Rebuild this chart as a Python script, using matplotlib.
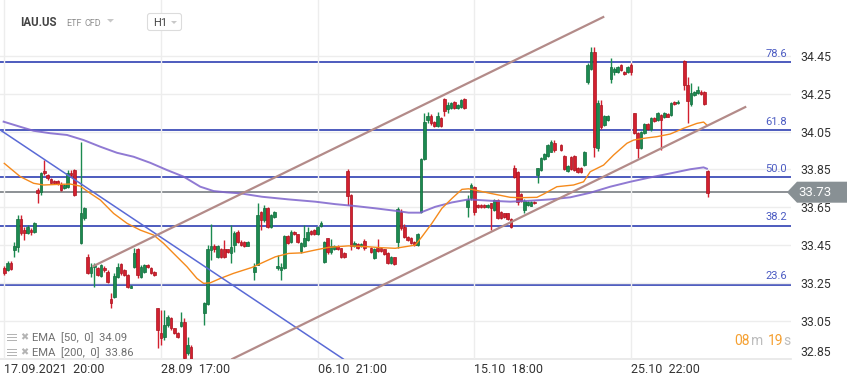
import numpy as np
import matplotlib
matplotlib.use("Agg")
import matplotlib.pyplot as plt
from matplotlib.patches import Polygon, FancyBboxPatch, Rectangle

plt.rcParams['font.family'] = ['Roboto', 'DejaVu Sans']

# ---------------- data ----------------
# time slot of each candle (hourly bars, index along the x axis)
slots = (list(range(0, 22)) + list(range(23, 45)) + list(range(45, 57)) +
         list(range(60, 74)) + list(range(75, 109)) + list(range(110, 166)) +
         list(range(167, 203)) + list(range(204, 212)))

opens = [33.331, 33.319, 33.358, 33.425, 33.440, 33.588, 33.530, 33.516, 33.530, 33.521,
         33.741, 33.732, 33.842, 33.821, 33.798, 33.790, 33.789, 33.773, 33.750, 33.759,
         33.833, 33.847, 33.460, 33.592, 33.389, 33.302, 33.337, 33.328, 33.289, 33.330,
         33.310, 33.166, 33.178, 33.284, 33.349, 33.319, 33.293, 33.226, 33.337, 33.428,
         33.284, 33.310, 33.344, 33.328, 33.310, 33.117, 32.987, 32.967, 33.029, 33.064,
         33.012, 32.988, 33.024, 33.046, 32.880, 32.914, 33.091, 33.140, 33.425, 33.446,
         33.389, 33.428, 33.428, 33.428, 33.407, 33.451, 33.521, 33.469, 33.465, 33.448,
         33.310, 33.346, 33.627, 33.583, 33.645, 33.548, 33.601, 33.328, 33.319, 33.328,
         33.499, 33.469, 33.521, 33.508, 33.421, 33.448, 33.478, 33.527, 33.530, 33.509,
         33.551, 33.360, 33.487, 33.413, 33.430, 33.448, 33.434, 33.411, 33.842, 33.715,
         33.448, 33.456, 33.448, 33.474, 33.434, 33.381, 33.434, 33.434, 33.428, 33.407,
         33.358, 33.386, 33.469, 33.627, 33.548, 33.495, 33.487, 33.469, 33.451, 33.627,
         33.903, 34.111, 34.132, 34.102, 34.081, 34.120, 34.222, 34.169, 34.173, 34.207,
         34.173, 34.181, 34.220, 33.653, 33.698, 33.759, 33.664, 33.664, 33.662, 33.650,
         33.671, 33.636, 33.689, 33.627, 33.618, 33.618, 33.588, 33.856, 33.838, 33.719,
         33.636, 33.662, 33.659, 33.680, 33.821, 33.847, 33.905, 33.922, 33.944, 33.988,
         33.979, 33.921, 33.842, 33.917, 33.921, 33.859, 33.859, 33.873, 34.313, 34.380,
         34.468, 33.961, 34.190, 34.085, 34.111, 34.326, 34.366, 34.363, 34.401, 34.366,
         34.363, 34.401, 34.146, 34.041, 33.961, 34.041, 34.088, 34.062, 34.120, 34.111,
         34.137, 34.125, 34.142, 34.137, 34.207, 34.199, 34.424, 34.295, 34.195, 34.243,
         34.252, 34.260, 34.257, 33.842]
highs = [33.340, 33.367, 33.367, 33.469, 33.609, 33.609, 33.548, 33.557, 33.541, 33.574,
         33.752, 33.838, 33.900, 33.826, 33.805, 33.795, 33.794, 33.785, 33.773, 33.847,
         33.847, 33.852, 33.993, 33.653, 33.404, 33.355, 33.355, 33.335, 33.351, 33.340,
         33.319, 33.198, 33.302, 33.358, 33.356, 33.324, 33.298, 33.240, 33.434, 33.434,
         33.346, 33.351, 33.349, 33.333, 33.314, 33.117, 33.108, 33.108, 33.082, 33.071,
         33.015, 32.992, 33.099, 33.066, 32.967, 32.923, 33.152, 33.451, 33.562, 33.456,
         33.451, 33.435, 33.478, 33.432, 33.557, 33.525, 33.530, 33.478, 33.470, 33.472,
         33.358, 33.671, 33.630, 33.662, 33.650, 33.614, 33.632, 33.398, 33.355, 33.504,
         33.504, 33.530, 33.526, 33.512, 33.469, 33.557, 33.548, 33.532, 33.535, 33.553,
         33.578, 33.470, 33.490, 33.481, 33.453, 33.452, 33.438, 33.415, 33.852, 33.718,
         33.470, 33.460, 33.462, 33.481, 33.440, 33.435, 33.483, 33.440, 33.432, 33.412,
         33.395, 33.390, 33.650, 33.641, 33.562, 33.500, 33.492, 33.474, 33.514, 33.908,
         34.149, 34.153, 34.142, 34.108, 34.153, 34.126, 34.227, 34.207, 34.205, 34.212,
         34.195, 34.222, 34.225, 33.715, 33.778, 33.765, 33.667, 33.668, 33.666, 33.668,
         33.675, 33.694, 33.694, 33.632, 33.622, 33.622, 33.592, 33.873, 33.841, 33.724,
         33.694, 33.683, 33.686, 33.684, 33.860, 33.914, 33.935, 33.984, 34.003, 34.005,
         33.984, 33.926, 33.873, 33.922, 33.926, 33.864, 33.864, 33.948, 34.410, 34.498,
         34.498, 34.214, 34.216, 34.137, 34.137, 34.436, 34.390, 34.395, 34.406, 34.370,
         34.397, 34.411, 34.150, 34.046, 34.054, 34.093, 34.093, 34.129, 34.125, 34.155,
         34.142, 34.151, 34.147, 34.205, 34.212, 34.216, 34.427, 34.339, 34.304, 34.265,
         34.290, 34.270, 34.262, 33.845]
lows = [33.293, 33.314, 33.319, 33.389, 33.416, 33.504, 33.478, 33.509, 33.504, 33.517,
        33.674, 33.715, 33.821, 33.794, 33.776, 33.772, 33.770, 33.736, 33.745, 33.750,
        33.812, 33.710, 33.458, 33.583, 33.297, 33.284, 33.231, 33.288, 33.285, 33.311,
        33.251, 33.119, 33.170, 33.277, 33.295, 33.288, 33.224, 33.222, 33.328, 33.275,
        33.277, 33.305, 33.330, 33.298, 33.288, 32.906, 32.923, 32.950, 33.018, 33.003,
        32.984, 32.963, 33.018, 32.850, 32.871, 32.840, 33.029, 33.134, 33.372, 33.414,
        33.384, 33.384, 33.383, 33.410, 33.356, 33.414, 33.462, 33.446, 33.442, 33.444,
        33.266, 33.344, 33.530, 33.572, 33.543, 33.543, 33.596, 33.319, 33.266, 33.323,
        33.458, 33.460, 33.504, 33.464, 33.407, 33.442, 33.472, 33.505, 33.505, 33.504,
        33.546, 33.356, 33.404, 33.404, 33.425, 33.426, 33.385, 33.385, 33.662, 33.425,
        33.442, 33.430, 33.440, 33.425, 33.408, 33.376, 33.414, 33.416, 33.400, 33.353,
        33.353, 33.345, 33.434, 33.530, 33.488, 33.474, 33.456, 33.447, 33.446, 33.622,
        33.900, 34.095, 34.084, 34.076, 34.074, 34.076, 34.132, 34.148, 34.168, 34.168,
        34.168, 34.176, 34.168, 33.600, 33.689, 33.609, 33.645, 33.645, 33.646, 33.646,
        33.530, 33.632, 33.588, 33.588, 33.596, 33.582, 33.543, 33.805, 33.662, 33.678,
        33.620, 33.656, 33.655, 33.668, 33.777, 33.842, 33.900, 33.917, 33.940, 33.942,
        33.947, 33.845, 33.837, 33.846, 33.842, 33.833, 33.830, 33.868, 34.300, 34.374,
        33.917, 33.945, 34.063, 34.080, 34.106, 34.304, 34.350, 34.358, 34.370, 34.348,
        34.358, 34.348, 34.036, 33.909, 33.956, 34.036, 34.057, 34.053, 34.102, 34.106,
        33.952, 34.120, 34.125, 34.132, 34.190, 34.195, 34.269, 34.097, 34.185, 34.238,
        34.247, 34.243, 34.188, 33.706]
closes = [33.302, 33.356, 33.323, 33.446, 33.588, 33.513, 33.516, 33.548, 33.520, 33.567,
          33.727, 33.830, 33.830, 33.803, 33.780, 33.777, 33.773, 33.741, 33.768, 33.833,
          33.821, 33.715, 33.618, 33.645, 33.302, 33.337, 33.346, 33.293, 33.346, 33.317,
          33.257, 33.147, 33.288, 33.337, 33.302, 33.293, 33.231, 33.236, 33.407, 33.293,
          33.337, 33.346, 33.333, 33.302, 33.293, 33.003, 32.959, 33.029, 33.073, 33.012,
          32.988, 32.967, 33.046, 32.853, 32.923, 32.850, 33.145, 33.428, 33.446, 33.428,
          33.446, 33.389, 33.389, 33.416, 33.442, 33.516, 33.469, 33.451, 33.448, 33.465,
          33.337, 33.609, 33.583, 33.645, 33.548, 33.609, 33.627, 33.342, 33.337, 33.499,
          33.463, 33.521, 33.508, 33.469, 33.460, 33.487, 33.521, 33.509, 33.509, 33.548,
          33.569, 33.465, 33.413, 33.448, 33.448, 33.430, 33.389, 33.389, 33.711, 33.448,
          33.463, 33.434, 33.456, 33.434, 33.413, 33.430, 33.421, 33.421, 33.404, 33.358,
          33.389, 33.349, 33.640, 33.539, 33.495, 33.478, 33.460, 33.451, 33.509, 33.903,
          34.102, 34.132, 34.093, 34.081, 34.132, 34.081, 34.160, 34.190, 34.199, 34.173,
          34.190, 34.216, 34.173, 33.689, 33.768, 33.627, 33.650, 33.650, 33.650, 33.664,
          33.645, 33.689, 33.592, 33.592, 33.600, 33.587, 33.548, 33.812, 33.680, 33.683,
          33.683, 33.676, 33.680, 33.671, 33.856, 33.909, 33.930, 33.979, 33.996, 33.952,
          33.952, 33.851, 33.868, 33.851, 33.847, 33.838, 33.835, 33.943, 34.401, 34.468,
          33.970, 34.202, 34.072, 34.132, 34.132, 34.392, 34.378, 34.389, 34.375, 34.352,
          34.392, 34.363, 34.041, 33.961, 34.049, 34.088, 34.062, 34.120, 34.107, 34.149,
          34.111, 34.146, 34.129, 34.199, 34.195, 34.207, 34.295, 34.211, 34.255, 34.260,
          34.269, 34.248, 34.193, 33.724]

# EMA 50 and EMA 200 (slot, price)
ema50_x = [0.0, 4.8, 8.8, 11.8, 15.8, 19.8, 22.8, 25.8, 28.8, 32.8, 36.8, 40.8, 44.8, 47.8,
           50.8, 54.8, 57.8, 59.8, 61.8, 64.8, 68.8, 74.3, 81.3, 85.3, 89.3, 93.3, 97.3,
           103.3, 109.3, 113.3, 117.3, 123.3, 125.3, 128.3, 131.3, 134.3, 137.3, 139.3,
           141.3, 145.8, 151.8, 154.8, 159.8, 161.8, 165.8, 170.8, 173.8, 175.8, 179.8,
           182.8, 186.8, 188.8, 191.8, 195.8, 199.8, 203.8, 207.8, 209.8, 210.8]
ema50_y = [33.882, 33.812, 33.777, 33.768, 33.771, 33.773, 33.762, 33.724, 33.689, 33.618,
           33.566, 33.530, 33.504, 33.460, 33.407, 33.337, 33.275, 33.249, 33.252, 33.275,
           33.302, 33.333, 33.389, 33.407, 33.410, 33.425, 33.439, 33.447, 33.442, 33.437,
           33.434, 33.451, 33.495, 33.566, 33.645, 33.697, 33.745, 33.748, 33.741, 33.724,
           33.703, 33.701, 33.703, 33.720, 33.759, 33.768, 33.785, 33.838, 33.873, 33.926,
           33.988, 34.005, 34.014, 34.023, 34.037, 34.067, 34.093, 34.100, 34.084]
ema200_x = [-0.2, 4.8, 8.8, 13.8, 18.8, 23.8, 28.8, 33.8, 38.8, 43.8, 48.8, 53.8, 58.8,
            62.8, 66.8, 70.8, 77.3, 85.3, 93.3, 99.3, 105.3, 111.3, 117.3, 121.3, 124.8,
            129.3, 134.3, 139.3, 145.8, 151.8, 157.8, 163.8, 169.8, 175.8, 181.8, 187.8,
            193.8, 199.8, 205.8, 209.8, 210.8]
ema200_y = [34.102, 34.075, 34.054, 34.041, 34.032, 34.005, 33.970, 33.938, 33.917, 33.885,
            33.847, 33.812, 33.759, 33.736, 33.729, 33.724, 33.706, 33.692, 33.680, 33.667,
            33.657, 33.645, 33.632, 33.622, 33.622, 33.653, 33.676, 33.692, 33.685, 33.680,
            33.685, 33.692, 33.703, 33.727, 33.759, 33.785, 33.808, 33.829, 33.851, 33.861,
            33.854]

# Fibonacci retracement levels
fib_labels = ["78.6", "61.8", "50.0", "38.2", "23.6"]
fib_prices = [34.415, 34.056, 33.808, 33.552, 33.243]

# drawn trend lines (slot, price) anchors
down_line_x = [-1.2, 101.7]
down_line_y = [34.058, 32.850]
chan_up_x = [26.7, 179.7]
chan_up_y = [33.340, 34.654]
chan_lo_x = [68.4, 222.3]
chan_lo_y = [32.850, 34.179]

last_price = 33.73
y_ticks = [34.45, 34.25, 34.05, 33.85, 33.65, 33.45, 33.25, 33.05, 32.85]
x_tick_slots = [0, 47, 94, 141, 188]
x_tick_labels = ["17.09.2021  20:00", "28.09  17:00", "06.10  21:00",
                 "15.10  18:00", "25.10  22:00"]
ema_legend = ["EMA  [50,  0]  34.09", "EMA  [200,  0]  33.86"]

# ---------------- figure ----------------
W, H = 859, 385
fig = plt.figure(figsize=(W / 100, H / 100), dpi=100)
fig.patch.set_facecolor('white')
ax = fig.add_axes([0, (H - 359) / H, 791 / W, 359 / H])
px_per_slot = 3.333
x_left = -4.3 / px_per_slot
ax.set_xlim(x_left, x_left + 791 / px_per_slot)
ax.set_ylim(32.85, 34.744)
for s in ax.spines.values():
    s.set_visible(False)

ax.yaxis.tick_right()
ax.set_yticks(y_ticks)
ax.set_yticklabels([f"{v:.2f}" for v in y_ticks])
ax.set_xticks(x_tick_slots)
ax.set_xticklabels(x_tick_labels, ha='left')
ax.tick_params(axis='y', length=0, pad=6.5, labelsize=8.8, labelcolor='#333333')
ax.tick_params(axis='x', length=0, pad=3.0, labelsize=9, labelcolor='#333333')
ax.get_yticklabels()[-1].set_va('bottom')
ax.grid(True, color='#ededed', lw=1, zorder=0)
ax.axhline(32.85, color='#e6e6e6', lw=1.2, zorder=0, clip_on=False)

# fib levels
for lab, lvl in zip(fib_labels, fib_prices):
    ax.axhline(lvl, color='#2f40b3', lw=1.2, zorder=1)
    ax.annotate(lab, xy=(0.995, lvl), xycoords=ax.get_yaxis_transform(),
                xytext=(0, 2.5), textcoords='offset points', ha='right', va='bottom',
                fontsize=8, color='#4b5bc2')

# current price line
ax.axhline(last_price, color='#8c9195', lw=1.4, zorder=1)

# candles
o = np.array(opens); h = np.array(highs); l = np.array(lows); c = np.array(closes)
x = np.array(slots, dtype=float)
up = c >= o
green, red = '#1b8a50', '#d3202f'
green_e, red_e = '#136b3c', '#a8141f'
cols = np.where(up, green, red)
edges = np.where(up, green_e, red_e)
ax.vlines(x, l, h, colors=cols, lw=1.0, zorder=3)
bottoms = np.minimum(o, c)
heights = np.maximum(np.abs(c - o), 0.006)
ax.bar(x, heights, bottom=bottoms, width=0.78, color=cols, edgecolor=edges,
       linewidth=0.5, zorder=4)

# EMAs
ax.plot(ema200_x, ema200_y, color='#7d63cc', lw=1.4, alpha=0.85, zorder=5)
ax.plot(ema50_x, ema50_y, color='#f58a1c', lw=1.0, zorder=5)

# trend lines
ax.plot(down_line_x, down_line_y, color='#5a6ad6', lw=1.1, zorder=5)
ax.plot(chan_up_x, chan_up_y, color='#b38b89', lw=1.6, zorder=5)
ax.plot(chan_lo_x, chan_lo_y, color='#b38b89', lw=1.6, zorder=5)

# price tag on the right axis
ytf = ax.get_yaxis_transform()
hh = 10.5 / 189.5
tag = Polygon([(787 / 791, last_price), (797 / 791, last_price + hh),
               (847 / 791, last_price + hh), (847 / 791, last_price - hh),
               (797 / 791, last_price - hh)], closed=True, transform=ytf,
              clip_on=False, facecolor='#889094', edgecolor='none', zorder=10)
ax.add_patch(tag)
ax.text(814.5 / 791, last_price, f"{last_price:.2f}", transform=ytf, ha='center',
        va='center', fontsize=9.5, color='white', zorder=11, clip_on=False)

# ---------------- overlay (header, legend, timer) in pixel coords ----------------
ov = fig.add_axes([0, 0, 1, 1], zorder=20)
ov.set_xlim(0, W); ov.set_ylim(H, 0); ov.axis('off'); ov.patch.set_alpha(0)

ov.text(20.5, 23, "IAU.US", fontsize=8.3, fontweight='bold', color='#444444',
        ha='left', va='center')
ov.text(66.5, 23.5, "ETF", fontsize=6.5, color='#8f8f8f', ha='left', va='center')
ov.text(84.5, 23.5, "CFD", fontsize=6.5, color='#8f8f8f', ha='left', va='center')
ov.add_patch(Polygon([(107, 19), (114, 19), (110.5, 22.5)], closed=True,
                     facecolor='#c8c8c8', edgecolor='none'))
ov.add_patch(FancyBboxPatch((147.5, 13.5), 34, 17, boxstyle='round,pad=0,rounding_size=2.5',
                            facecolor='white', edgecolor='#dcdcdc', lw=0.8))
ov.text(153, 23, "H1", fontsize=8, color='#444444', ha='left', va='center')
ov.add_patch(Polygon([(171, 21), (177, 21), (174, 24)], closed=True,
                     facecolor='#c8c8c8', edgecolor='none'))

# legend rows
for i, txt in enumerate(ema_legend):
    yc = 337.5 + 15 * i
    for k in range(3):
        ov.add_patch(Rectangle((7, yc - 4 + 3 * k), 10, 1.6, facecolor='#b4b4b4',
                               edgecolor='none'))
    ov.text(24.5, yc, "\u2716", fontsize=7, color='#b4b4b4', ha='center', va='center',
            family=['DejaVu Sans'])
    ov.text(32, yc, txt, fontsize=8.1, color='#707070', ha='left', va='center')

# countdown timer
ov.text(734, 341, "08", fontsize=10, color='#f5a031', ha='left', va='center')
ov.text(751, 341, "m", fontsize=10, color='#bdbdbd', ha='left', va='center')
ov.text(767.5, 341, "19", fontsize=10, color='#f5a031', ha='left', va='center')
ov.text(783.5, 341, "s", fontsize=10, color='#bdbdbd', ha='left', va='center')

fig.savefig("out.png", dpi=100, facecolor='white')
